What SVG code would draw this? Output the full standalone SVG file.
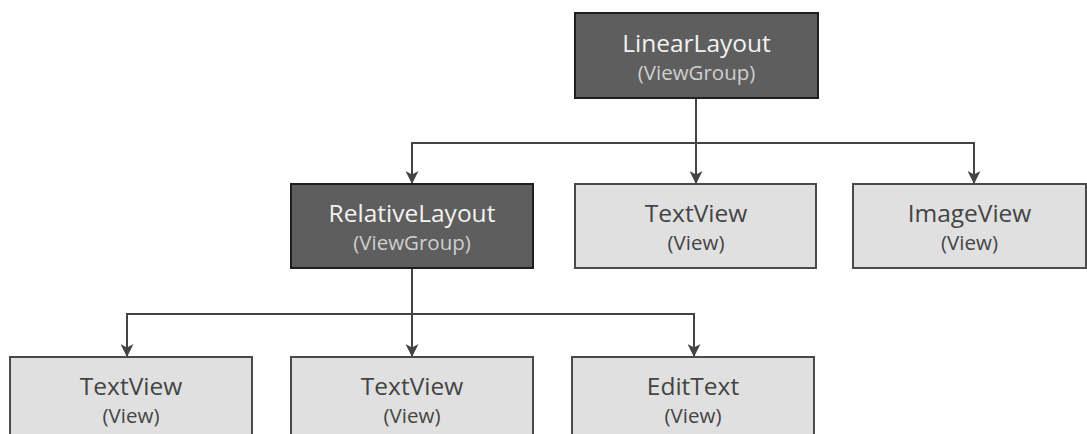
<svg xmlns="http://www.w3.org/2000/svg" width="1087" height="434" viewBox="0 0 1087 434">
  <defs>
    <marker id="arrow" viewBox="0 0 13 13" refX="12" refY="6.5" markerWidth="13" markerHeight="13" markerUnits="userSpaceOnUse" orient="auto">
      <path d="M0,0 L13,6.5 L0,13 L3.5,6.5 Z" fill="#444"/>
    </marker>
    <style>
      .group rect { fill: #5e5e5e; stroke: #1e1e1e; stroke-width: 2; }
      .view rect { fill: #e0e0e0; stroke: #4a4a4a; stroke-width: 2; }
      text { font-family: "Open Sans", "Liberation Sans", sans-serif; text-anchor: middle; }
      .title { font-size: 24.5px; }
      .sub { font-size: 20.5px; }
      .group .title { fill: #f2f2f2; }
      .group .sub { fill: #cfcfcf; }
      .view text { fill: #444; }
      .link { fill: none; stroke: #444; stroke-width: 2; marker-end: url(#arrow); }
    </style>
  </defs>
  <rect width="1087" height="434" fill="#fff"/>

  <g id="connectors">
    <path class="link" d="M696,98 V183"/>
    <path class="link" d="M696,143 H412 V183"/>
    <path class="link" d="M696,143 H974 V183"/>
    <path class="link" d="M412,268 V356"/>
    <path class="link" d="M412,314 H127 V356"/>
    <path class="link" d="M412,314 H694 V356"/>
  </g>

  <g id="linear-layout" class="group">
    <rect x="575" y="13" width="243" height="85"/>
    <text class="title" x="696.5" y="52">LinearLayout</text>
    <text class="sub" x="696.5" y="80">(ViewGroup)</text>
  </g>

  <g id="relative-layout" class="group">
    <rect x="291" y="184" width="242" height="84"/>
    <text class="title" x="412" y="222">RelativeLayout</text>
    <text class="sub" x="412" y="250">(ViewGroup)</text>
  </g>

  <g id="text-view-1" class="view">
    <rect x="575" y="184" width="241" height="84"/>
    <text class="title" x="696" y="222">TextView</text>
    <text class="sub" x="696" y="250">(View)</text>
  </g>

  <g id="image-view" class="view">
    <rect x="853" y="184" width="233" height="84"/>
    <text class="title" x="969.5" y="222">ImageView</text>
    <text class="sub" x="969.5" y="250">(View)</text>
  </g>

  <g id="text-view-2" class="view">
    <rect x="10" y="357" width="242" height="84"/>
    <text class="title" x="131" y="394.5">TextView</text>
    <text class="sub" x="131" y="422.5">(View)</text>
  </g>

  <g id="text-view-3" class="view">
    <rect x="291" y="357" width="242" height="84"/>
    <text class="title" x="412" y="394.5">TextView</text>
    <text class="sub" x="412" y="422.5">(View)</text>
  </g>

  <g id="edit-text" class="view">
    <rect x="572" y="357" width="242" height="84"/>
    <text class="title" x="693" y="394.5">EditText</text>
    <text class="sub" x="693" y="422.5">(View)</text>
  </g>
</svg>
